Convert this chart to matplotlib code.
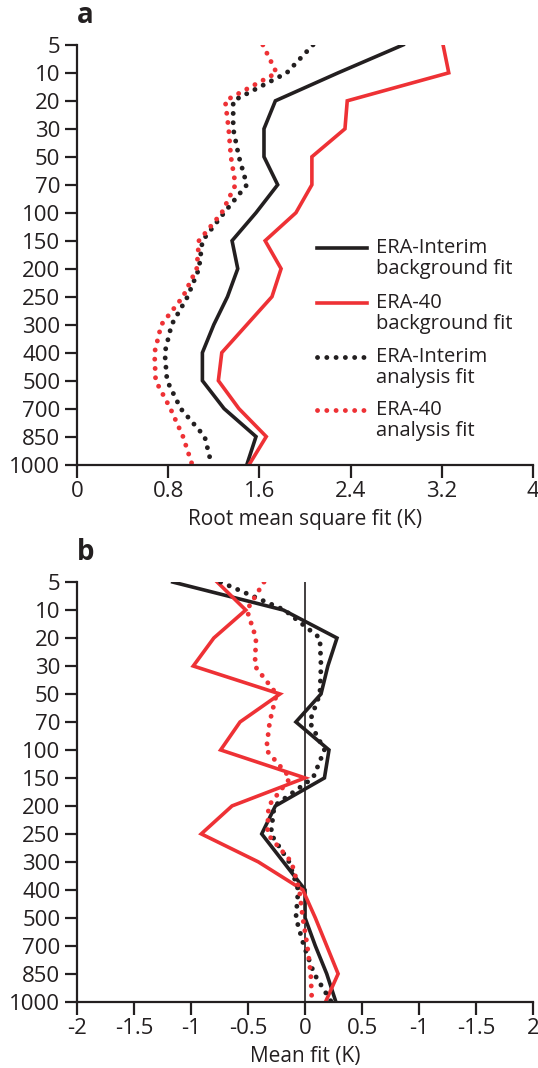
import matplotlib.pyplot as plt
from matplotlib.lines import Line2D

plt.rcParams['font.family'] = ['Open Sans', 'DejaVu Sans']

levels = ['5', '10', '20', '30', '50', '70', '100', '150', '200', '250',
          '300', '400', '500', '700', '850', '1000']

# panel a: root mean square fit (K)
rms_interim_bg = [2.86, 2.29, 1.74, 1.64, 1.64, 1.76, 1.57, 1.36, 1.41, 1.32,
                  1.20, 1.10, 1.10, 1.29, 1.57, 1.49]
rms_era40_bg = [3.21, 3.26, 2.37, 2.35, 2.06, 2.06, 1.92, 1.65, 1.79, 1.71,
                1.49, 1.27, 1.24, 1.42, 1.66, 1.51]
rms_interim_an = [2.07, 1.84, 1.37, 1.37, 1.42, 1.49, 1.29, 1.10, 1.07, 0.97,
                  0.83, 0.77, 0.79, 0.91, 1.12, 1.18]
rms_era40_an = [1.63, 1.75, 1.30, 1.33, 1.35, 1.39, 1.27, 1.07, 1.05, 0.93,
                0.74, 0.68, 0.69, 0.82, 0.93, 1.01]

# panel b: mean fit (K)
mean_interim_bg = [-1.16, -0.19, 0.28, 0.20, 0.14, -0.08, 0.21, 0.17, -0.26, -0.38,
                   -0.19, 0.00, 0.00, 0.09, 0.19, 0.27]
mean_era40_bg = [-0.77, -0.52, -0.80, -0.98, -0.22, -0.57, -0.74, 0.00, -0.64, -0.91,
                 -0.41, -0.02, 0.09, 0.19, 0.29, 0.18]
mean_interim_an = [-0.74, -0.18, 0.13, 0.14, 0.13, 0.04, 0.17, 0.07, -0.27, -0.30,
                   -0.14, -0.06, -0.08, -0.01, 0.08, 0.23]
mean_era40_an = [-0.36, -0.51, -0.43, -0.44, -0.25, -0.31, -0.34, -0.13, -0.32, -0.33,
                 -0.12, -0.05, -0.02, 0.02, 0.05, 0.06]

rms_ticks = [0, 0.8, 1.6, 2.4, 3.2, 4]
rms_ticklabels = ['0', '0.8', '1.6', '2.4', '3.2', '4']
mean_ticks = [-2, -1.5, -1, -0.5, 0, 0.5, 1, 1.5, 2]
mean_ticklabels = ['-2', '-1.5', '-1', '-0.5', '0', '0.5', '-1', '-1.5', '2']

labels = [('ERA-Interim', 'background fit'), ('ERA-40', 'background fit'),
          ('ERA-Interim', 'analysis fit'), ('ERA-40', 'analysis fit')]

black = '#231f20'
red = '#ee3135'
solid = dict(lw=2.6, solid_joinstyle='miter')
dotted = dict(lw=3.5, linestyle=(0, (0.01, 1.9)), dash_capstyle='round')
fs = 14.5

fig = plt.figure(figsize=(5.38, 10.68), dpi=100)
ax_a = fig.add_axes([0.143, 0.565, 0.848, 0.393])
ax_b = fig.add_axes([0.143, 0.062, 0.848, 0.393])

y = list(range(len(levels)))

ax_a.plot(rms_interim_bg, y, color=black, **solid)
ax_a.plot(rms_era40_bg, y, color=red, **solid)
ax_a.plot(rms_interim_an, y, color=black, **dotted)
ax_a.plot(rms_era40_an, y, color=red, **dotted)

ax_b.axvline(0, color=black, lw=1.2, zorder=0)
ax_b.plot(mean_interim_bg, y, color=black, **solid)
ax_b.plot(mean_era40_bg, y, color=red, **solid)
ax_b.plot(mean_interim_an, y, color=black, **dotted)
ax_b.plot(mean_era40_an, y, color=red, **dotted)

for ax, ticks, tlabels, xlabel, letter in [
        (ax_a, rms_ticks, rms_ticklabels, 'Root mean square fit (K)', 'a'),
        (ax_b, mean_ticks, mean_ticklabels, 'Mean fit (K)', 'b')]:
    ax.set_ylim(len(levels) - 1, 0)
    ax.set_xlim(ticks[0], ticks[-1])
    ax.set_yticks(y)
    ax.set_yticklabels(levels)
    ax.set_xticks(ticks)
    ax.set_xticklabels(tlabels)
    ax.spines['top'].set_visible(False)
    ax.spines['right'].set_visible(False)
    for s in ['left', 'bottom']:
        ax.spines[s].set_linewidth(1.6)
        ax.spines[s].set_color(black)
    ax.tick_params(length=9, width=1.6, color=black, labelcolor=black,
                   labelsize=16, pad=3)
    ax.set_xlabel(xlabel, fontsize=15, color=black, labelpad=5)
    ax.text(0.0, 1.035, letter, transform=ax.transAxes, fontsize=20,
            fontweight='bold', color=black, va='bottom', ha='left')

# legend drawn by hand so the handle sits on the first text line
handles = [(black, solid), (red, solid), (black, dotted), (red, dotted)]
tops = [0.517, 0.386, 0.257, 0.131]
for (c, st), (l1, l2), fy in zip(handles, labels, tops):
    ax_a.add_line(Line2D([0.526, 0.636], [fy, fy], color=c,
                         transform=ax_a.transAxes, **st))
    ax_a.text(0.655, fy, l1, transform=ax_a.transAxes, fontsize=fs,
              color=black, va='center', ha='left')
    ax_a.text(0.655, fy - 0.051, l2, transform=ax_a.transAxes, fontsize=fs,
              color=black, va='center', ha='left')

fig.savefig('out.png', dpi=100)
